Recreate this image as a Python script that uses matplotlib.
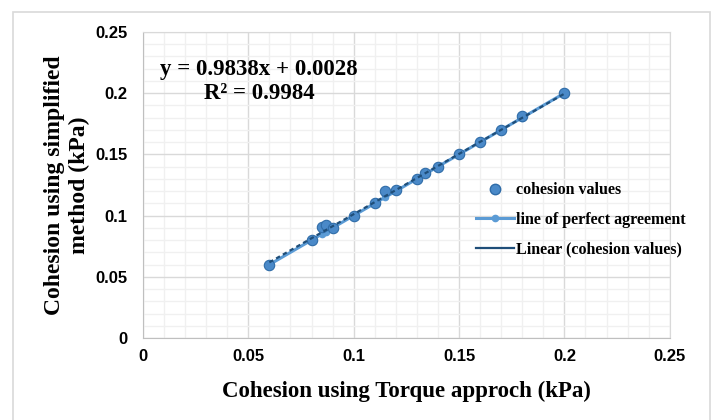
import numpy as np
import matplotlib
matplotlib.use("Agg")
import matplotlib.pyplot as plt
from matplotlib.patches import Rectangle
from matplotlib.lines import Line2D
from matplotlib.ticker import MultipleLocator

# cohesion from the torque approach (x) vs the simplified method (y), kPa
torque = [0.06, 0.08, 0.085, 0.087, 0.09, 0.10, 0.11, 0.115, 0.12,
          0.13, 0.134, 0.14, 0.15, 0.16, 0.17, 0.18, 0.20]
simplified = [0.06, 0.08, 0.091, 0.092, 0.09, 0.10, 0.11, 0.12, 0.121,
              0.13, 0.135, 0.14, 0.15, 0.16, 0.17, 0.181, 0.20]

slope = 0.9838
intercept = 0.0028
r2 = 0.9984

tick_font = ["Liberation Sans Narrow", "Liberation Sans"]
label_font = "Liberation Serif"

fig = plt.figure(figsize=(7.11, 4.2), dpi=100)
ax = fig.add_axes([0.201, 0.195, 0.741, 0.729])

# light frame round the whole chart
fig.patches.append(Rectangle((0.018, -0.02), 0.98, 0.992, transform=fig.transFigure,
                             fill=False, edgecolor="#D9D9D9", linewidth=1.2))

x = np.array(torque)
y = np.array(simplified)

# line of perfect agreement (y = x)
ax.plot(x, x, color="#5B9BD5", linewidth=2.2, marker="o", markersize=4.5,
        zorder=3)
# fitted trendline
fit_x = np.array([x.min(), x.max()])
ax.plot(fit_x, slope * fit_x + intercept, color="#1F4E79", linewidth=1.6,
        linestyle=(0, (2, 1.5)), zorder=5)
# measured values
ax.plot(x, y, linestyle="none", marker="o", markersize=7.5,
        markerfacecolor="#4A89C8", markeredgecolor="#2F6CA8",
        markeredgewidth=0.8, zorder=4)

ax.set_xlim(0, 0.25)
ax.set_ylim(0, 0.25)
ax.xaxis.set_minor_locator(MultipleLocator(0.01))
ax.yaxis.set_minor_locator(MultipleLocator(0.01))
ax.set_xticks([0, 0.05, 0.1, 0.15, 0.2, 0.25])
ax.set_xticklabels(["0", "0.05", "0.1", "0.15", "0.2", "0.25"])
ax.set_yticks([0, 0.05, 0.1, 0.15, 0.2, 0.25])
ax.set_yticklabels(["0", "0.05", "0.1", "0.15", "0.2", "0.25"])

ax.grid(which="major", color="#D9D9D9", linewidth=1.0)
ax.grid(which="minor", color="#F0F0F0", linewidth=1.0)
ax.set_axisbelow(True)
ax.tick_params(which="both", length=0)
ax.tick_params(axis="x", pad=8)
ax.tick_params(axis="y", pad=11)
for lab in ax.get_xticklabels() + ax.get_yticklabels():
    lab.set_family(tick_font)
    lab.set_fontweight("bold")
    lab.set_fontsize(12)

for side in ["top", "right"]:
    ax.spines[side].set_color("#D9D9D9")
for side in ["left", "bottom"]:
    ax.spines[side].set_color("#BFBFBF")

ax.set_xlabel("Cohesion using Torque approch (kPa)", family=label_font,
              fontweight="bold", fontsize=16.5, labelpad=12)
ax.set_ylabel("Cohesion using simplified\nmethod (kPa)", family=label_font,
              fontweight="bold", fontsize=17, labelpad=4, linespacing=1.2)

ax.text(0.055, 0.2095, f"y = {slope}x + {intercept}\nR² = {r2}",
        family=label_font, fontweight="bold", fontsize=16.5,
        ha="center", va="center", linespacing=1.2)

handles = [
    Line2D([], [], linestyle="none", marker="o", markersize=7.5,
           markerfacecolor="#4A89C8", markeredgecolor="#2F6CA8"),
    Line2D([], [], color="#5B9BD5", linewidth=2.2, marker="o", markersize=4.5),
    Line2D([], [], color="#1F4E79", linewidth=1.6),
]
labels = ["cohesion values", "line of perfect agreement",
          "Linear (cohesion values)"]
fig.legend(handles, labels, loc="upper left", bbox_to_anchor=(0.649, 0.6),
           frameon=False, handlelength=2.4, handletextpad=0.1,
           labelspacing=0.85, prop={"family": label_font, "weight": "bold",
                                    "size": 11.5})

fig.savefig("out.png", dpi=100)
